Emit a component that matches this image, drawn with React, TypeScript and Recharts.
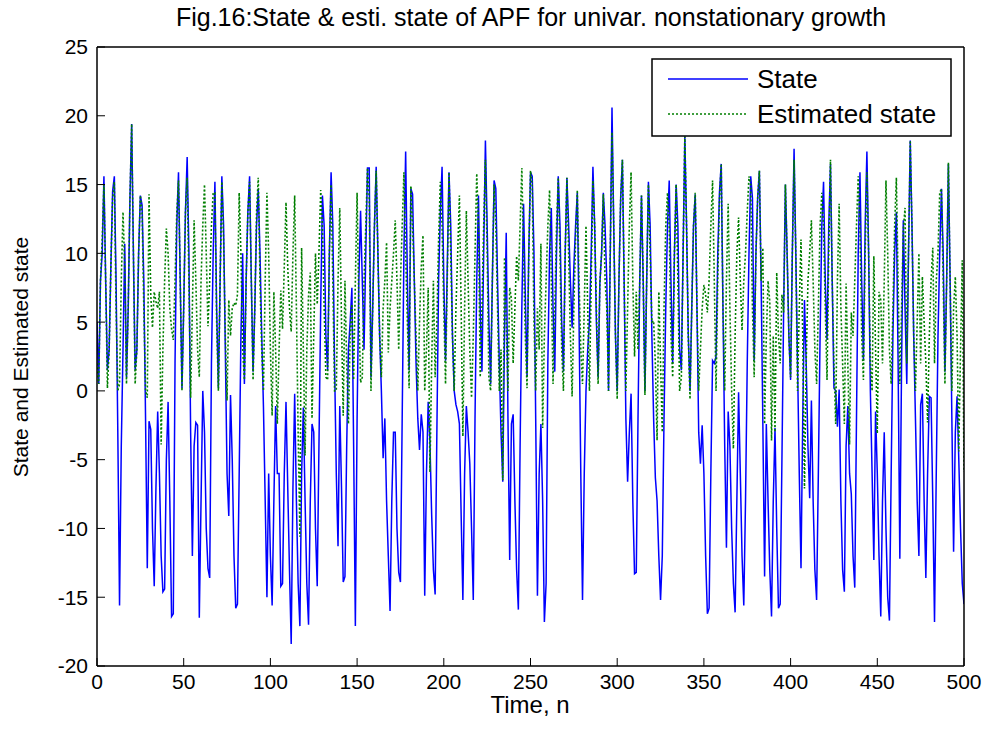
// App.tsx
//
// State vs. estimated state (APF) for the univariate nonstationary growth model.
// MATLAB-style figure: boxed axes, inward ticks, legend in the top-right corner.

import { LineChart, Line, XAxis, YAxis } from "recharts";

const W = 991;
const H = 733;

// Plot box in page pixels
const PLOT = { left: 97, right: 964, top: 47, bottom: 666 };

const xTicks = [0, 50, 100, 150, 200, 250, 300, 350, 400, 450, 500];
const yTicks = [-20, -15, -10, -5, 0, 5, 10, 15, 20, 25];

// True state, n = 0..500
const stateValues = [
  5, 0.5, 8, 10, 15.6, 8, 1.5, 3, 9, 14.5,
  15.6, 8, -3, -15.6, -4, 3, 10.7, 1, 6, 14,
  19.4, 10, 1.5, 3, 10, 14.2, 13.5, 8, -2, -12.9,
  -2.2, -2.8, -10, -14.2, -7, -1.5, -6, -12, -14.6, -14.4,
  -5, -0.8, -8, -16.4, -16.2, 2, 12, 15.9, 8, 0.2,
  6, 13, 17, 10, -3, -12, -4, -2.3, -2.5, -16.5,
  -8, 0, -3, -10, -12.9, -13.6, 2, 10, 15.2, 6,
  0.2, 8, 15.6, 12, 3, -6, -9.1, -0.3, -5, -12,
  -15.8, -15.5, -6, 4, 10, 0.5, 8, 13, 15.6, 8,
  1.4, 6, 12, 14.7, 10, 4, -1.2, -8, -15, -6,
  -12, -15.6, -8, -1.1, -6, -6, -14.2, -14, -6, -0.8,
  -7, -13, -18.4, -7, -0.2, -8, -14, -17.1, -6, -1.2,
  -8, -14, -17, -8, -2.4, -3, -10, -14.2, -4, 6,
  14.2, 12, 4, 1.5, 10, 15.9, 12, 2, -6, -11.3,
  -1.1, -7, -13.9, -13.5, -4, 3, 5, 7.5, -4, -17.1,
  -2, 8, 13.1, 8, 3, 10, 16.2, 16.2, 1, 6,
  12, 16.3, 10, 4, 0, -4.9, -2, -8, -12, -16,
  -8, -3, -3, -10, -13.2, -13.9, -2, 10, 17.4, 8,
  1.5, 14.7, 14.3, 8, 2, -2, -4.3, -1.7, -3, -14.9,
  -6, -0.8, -3.7, -9, -13, -14.8, -3, 8, 13, 16.3,
  8, 2.2, 9, 15.9, 12, 4, 0, -1, -1.5, -2.4,
  -9, -15.2, -6, -1.1, -3, -5.3, -10, -15.2, -2, 8,
  14.2, 6, 1.4, 10, 18.2, 12, 5, 0.5, 8, 15.3,
  14.7, 8, 2, -3, -6.6, 4, 11.5, -2, -12.3, -2.4,
  -1.7, -8, -13, -15.9, -4, 6, 13.6, 7, 1, 10,
  15.9, 15.6, 10, -2, -14.9, -6, -2.4, -8, -16.8, -14,
  2, 10, 13.3, 6, 1.4, 10, 15.6, 12, 5, 1.4,
  10, 15.5, 12, 8, 4.6, 9, 12, 14.4, 5, -6,
  -15.2, -6, 0, 3, 5.1, 10, 16.3, 12, 5, 1,
  7.8, 10, 14.4, 12, 8, 0, 10, 20.6, 12, 4,
  0, 8, 14, 16.8, 8, -2, -6.6, -3, -0.2, -8,
  -13.3, -13.2, -2, 8, 14.2, 8, 0, 8, 15.2, 12,
  4, -2, -6.3, -8, -12, -15.2, -12, -2, 6, 12,
  15.3, 8, 2, 10, 15, 12, 3, 1.5, 10, 18.5,
  12, 4, 0, 6, 12, 14.3, 6, -3, -5.3, -2.5,
  -6, -12, -16.2, -15.8, -6, 2.2, 2, 2.5, 10, 14.5,
  16.5, 6, -4, -11.4, -1.5, -4, -10, -14, -16.1, -8,
  -0.1, -6, -12, -15.6, -8, 2, 10, 15.6, 14, 2.2,
  10, 14, 16, 8, -2.4, -13.5, -2.4, -8, -13, -16.4,
  -8, -2.7, -10, -15.8, -15.5, -5, 6, 15, 10, 4,
  0.8, 10, 17.6, 10, 2, -6, -12.9, -2, 6.6, 2,
  -4, -7.8, -0.7, -8, -13, -15.2, -6, 4, 12, 15.2,
  8, 3.7, 12, 16.5, 8, 0.2, 0, -2.6, 0.1, -8,
  -13, -14.6, -4, -1.1, -6, -7.5, -12, -14.3, -2, 10,
  15.9, 8, 2.2, 12, 17.4, 10, 0, -6, -12.3, -1.5,
  -6, -12, -16.4, -8, -3, -10, -15, -16.7, -6, 4,
  10, 13, 2, -12.2, 2, 12.4, 6, 0.5, 10, 18.2,
  12, 4, -2, -8, -12, -1, -0.2, -8, -13.6, -6,
  -0.4, -0.5, -8, -16.8, -6, 4, 10, 14.7, 10, 1.4,
  8, 16.5, 8, -2, -11.7, -3, -0.4, -5, -10, -14,
  -15.5,
];

// APF estimate, n = 0..500
const estimatedValues = [
  2, 0.5, 8, 11, 15, 8, 0.2, 3, 9, 14,
  15.2, 6, 0, 0.5, 8, 13, 9, 0.5, 6, 14,
  19.4, 10, 0.5, 3, 10, 14.2, 13, 6, 0, -0.5,
  14.3, 7, 4.6, 7.2, 6.5, 6, 7.2, -3.9, 3, 8,
  11.8, 10, 6, 4.5, 3.7, 8, 13, 15.3, 8, 0,
  6, 13, 15.5, 8, -0.5, 6, 12.4, 8, 3, 1,
  8, 12, 15, 10, 4.7, 8, 12, 14.4, 14.4, 5,
  0, 8, 15.2, 11, 4, -0.7, 6.6, 4, 6, 6.4,
  6.2, 7, 14.4, 10, 3, 0.8, 8, 13, 15.2, 8,
  0.8, 6, 13, 15.5, 8, 3, 0, 8, 14.4, 10,
  3, -1.8, 7.2, 3, -2.4, 3, 7.3, 4.5, 9, 13.7,
  9, 6, 4.3, 10, 14.2, 6, -3, -10.6, 10.4, 3,
  -4.7, 3, 7, 8.6, -2, 4, 10, 6.3, 10, 14.6,
  12, 6, 1, 0.8, 10, 15, 8, 0, 0, 8,
  13.3, 5, -1.8, 8, 2, -2.4, 4, 6.3, 0.8, 8,
  14.4, 6, 0.6, 1, 8, 12, 16.2, 14, 0, 6,
  12, 16, 10, 4, 1, 6, 8, 10.8, 2.8, 6,
  8, 10, 12.4, 8, 3, 8, 12, 15.9, 10, 5,
  0.2, 14.9, 12, 8, 4, 0, 5, 9, 11.3, 0,
  3, 7.5, -5.9, 2, 8, 1, 5, 11, 15.2, 12,
  6, 0.5, 8, 15.9, 10, 4, 0, 6, 10, 14.2,
  6, -3.3, 6, 13.1, 8, 3, -0.5, 4, 10, 15.8,
  12, 1, 6, 12, 16.8, 10, 1, 0, 8, 15,
  12, 6, 0, 3, -6.5, 9.7, 5, 0, 7.5, 6.7,
  2, 6, 9.8, 8, 12, 16.2, 10, 4, 0.2, 10,
  16, 15, 5, 0, 6, 3, 10.7, -2.7, 4, 8,
  12, 14.6, 8, 0.5, 6, 12, 15.5, 10, 3, 0,
  10, 15.5, 10, 4, -0.4, 6, 11, 14.6, 8, 3,
  0.5, 6, 12, 6, 0, 8, 15.3, 12, 6, 0.5,
  7.8, 10, 14.3, 8, 6, 0, 10, 18.8, 12, 4,
  -0.6, 8, 14, 16.8, 8, 0, 6, 12, 15.9, 8,
  2.5, 7.2, 3, 8, 14.2, 8, -0.3, 8, 15, 10,
  5, 5.1, 2, -3.6, 7.2, 2, -3, 6, 12, 14.4,
  12, 4, 1, 10, 15, 8, 0, 1, 10, 18.5,
  12, 4, -0.6, 6, 12, 14.4, 6, 0, 3, 6,
  7.7, 7, 5.7, 8, 12, 15.3, 8, 0, 8, 14,
  16.5, 6, 0, 8, 13.6, 6, 0, -4.2, 4, 10,
  12.6, 8, 4.4, 8, 10, 13, 15.6, 15, 6, 1,
  10, 14, 16, 8, 10.4, -2.4, 4, 8, 6.5, -3.6,
  4, -3, 8.6, 4, 2, 7, 5.7, 15, 10, 4,
  1, 10, 16.8, 10, 0, 6, 11, 4, -7.1, 2,
  8, 10, 12.4, 8, 3, 0.5, 6, 12, 14.4, 12,
  6, 0.8, 10, 16.8, 8, 2, -2.4, 8, 13.6, 6,
  2, -2.4, 7.8, 2, -3.9, 5.7, 4, 8, 12, 15.6,
  12, 4, 0.8, 10, 15.9, 10, 2, 0, 9.8, 3,
  -3.1, 7.2, 6.6, 2, 8, 15.3, 10, 3, 0.5, 6,
  12, 15.5, 8, 0.5, 6, 11.8, 13.3, 2, 10, 18.2,
  12, 4, 0, 5, 10, 2, 8.3, 5, 2, -2.3,
  4, 8, 10.4, 2, 8, 10, 14.4, 14.7, 8, 0.5,
  8, 16.6, 8, 0, 6, 8.3, 4, -4.4, 3, 9.5,
  -5.9,
];

const data = stateValues.map((s, n) => ({
  n,
  state: s,
  est: estimatedValues[n],
}));

const FONT = "'Liberation Sans', Arial, Helvetica, sans-serif";
const BLUE = "#0000ff";
const GREEN = "#007f00";

// MATLAB draws ticks inward: negative tickSize, bigger tickMargin to push labels out
const TICK = 8;
const tickStyle = { fontSize: 21, fill: "#000", fontFamily: FONT };
const boxLine = { stroke: "#000", strokeWidth: 1.5 };

export default function App() {
  return (
    <div
      style={{
        position: "absolute",
        left: 0,
        top: 0,
        width: W,
        height: H,
        background: "#fff",
      }}
    >
      {/* axes are 1px thick (a 0px axis is not drawn), margins shrink to match */}
      <LineChart
        width={W}
        height={H}
        data={data}
        margin={{
          top: PLOT.top - 1,
          right: W - PLOT.right - 1,
          bottom: H - PLOT.bottom - 1,
          left: PLOT.left - 1,
        }}
      >
        <XAxis
          dataKey="n"
          type="number"
          domain={[0, 500]}
          ticks={xTicks}
          interval={0}
          height={1}
          tickSize={-TICK}
          tickMargin={TICK + 8}
          tick={tickStyle}
          axisLine={boxLine}
          tickLine={{ stroke: "#000" }}
          allowDataOverflow
        />
        {/* top edge of the box */}
        <XAxis
          xAxisId="top"
          orientation="top"
          type="number"
          domain={[0, 500]}
          ticks={xTicks}
          interval={0}
          height={1}
          tickSize={-TICK}
          tick={false}
          axisLine={boxLine}
          tickLine={{ stroke: "#000" }}
          allowDataOverflow
        />
        <YAxis
          type="number"
          domain={[-20, 25]}
          ticks={yTicks}
          interval={0}
          width={1}
          tickSize={-TICK}
          tickMargin={TICK + 9}
          tick={tickStyle}
          axisLine={boxLine}
          tickLine={{ stroke: "#000" }}
          allowDataOverflow
        />
        {/* right edge of the box */}
        <YAxis
          yAxisId="right"
          orientation="right"
          type="number"
          domain={[-20, 25]}
          ticks={yTicks}
          interval={0}
          width={1}
          tickSize={-TICK}
          tick={false}
          axisLine={boxLine}
          tickLine={{ stroke: "#000" }}
          allowDataOverflow
        />

        <Line
          type="linear"
          dataKey="state"
          stroke={BLUE}
          strokeWidth={1.5}
          dot={false}
          isAnimationActive={false}
        />
        <Line
          type="linear"
          dataKey="est"
          stroke={GREEN}
          strokeWidth={1.6}
          strokeDasharray="2 2"
          dot={false}
          isAnimationActive={false}
        />
      </LineChart>

      {/* title, axis labels and legend on top of the chart */}
      <svg
        width={W}
        height={H}
        style={{ position: "absolute", left: 0, top: 0, pointerEvents: "none" }}
        fontFamily={FONT}
      >
        <text x={531} y={26} textAnchor="middle" fontSize={25} fill="#000">
          Fig.16:State &amp; esti. state of APF for univar. nonstationary growth
        </text>
        <text x={530} y={713} textAnchor="middle" fontSize={24} fill="#000">
          Time, n
        </text>
        <text
          x={0}
          y={0}
          transform="translate(28 357) rotate(-90)"
          textAnchor="middle"
          fontSize={21}
          fill="#000"
        >
          State and Estimated state
        </text>

        <rect
          x={652}
          y={59}
          width={299}
          height={77}
          fill="#fff"
          stroke="#000"
          strokeWidth={1.5}
        />
        <line x1={668} y1={79} x2={748} y2={79} stroke={BLUE} strokeWidth={1.5} />
        <text x={757} y={88} fontSize={26} fill="#000">
          State
        </text>
        <line
          x1={668}
          y1={114}
          x2={748}
          y2={114}
          stroke={GREEN}
          strokeWidth={1.6}
          strokeDasharray="2 2"
        />
        <text x={757} y={123} fontSize={26} fill="#000">
          Estimated state
        </text>
      </svg>
    </div>
  );
}
